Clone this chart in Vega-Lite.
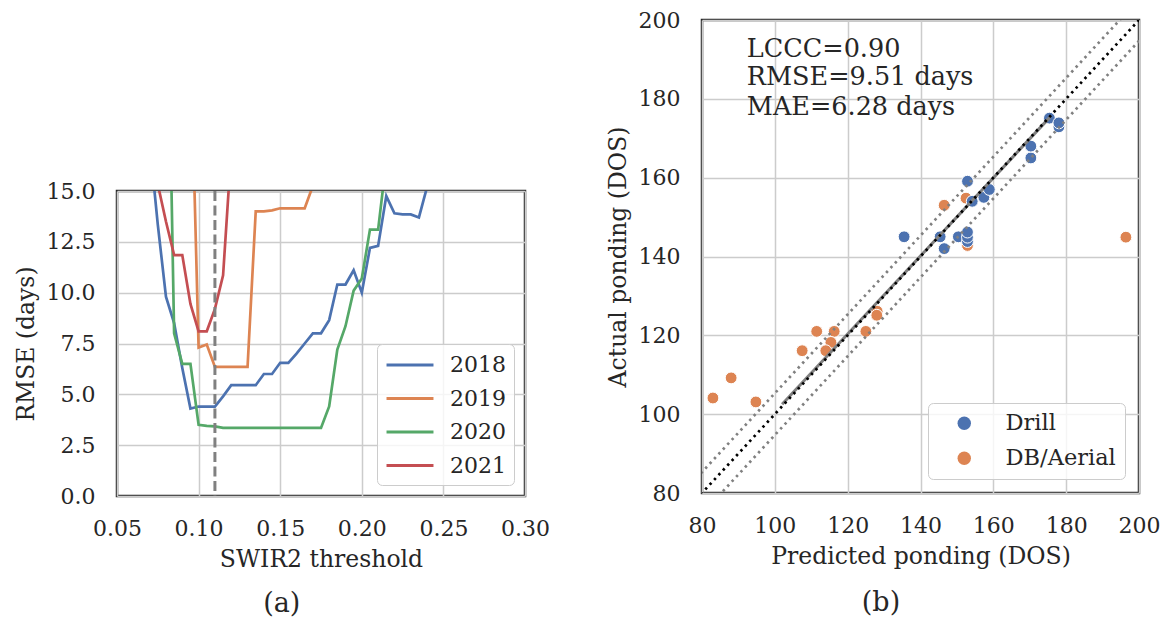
{
  "$schema": "https://vega.github.io/schema/vega-lite/v6.json",
  "padding": {"left": 12, "top": 7, "right": 2, "bottom": 0},
  "background": "white",
  "config": {
    "font": "DejaVu Serif",
    "view": {"stroke": "#262626", "strokeWidth": 2.5},
    "axis": {
      "labelFont": "DejaVu Serif", "titleFont": "DejaVu Serif",
      "labelFontSize": 22, "titleFontSize": 23.5,
      "labelColor": "#262626", "titleColor": "#262626",
      "titleFontWeight": "normal", "ticks": false, "labelPadding": 22,
      "titlePadding": 8, "domain": false, "labelFlush": false, "labelOverlap": false,
      "gridColor": "#cccccc", "gridWidth": 1.5
    },
    "legend": {"labelFont": "DejaVu Serif", "labelColor": "#262626"},
    "title": {"font": "DejaVu Serif", "fontSize": 27, "fontWeight": "normal", "color": "#262626"}
  },
  "resolve": {"scale": {"color": "independent"}, "legend": {"color": "independent"}},
  "spacing": 53,
  "hconcat": [
    {
      "spacing": 0,
      "resolve": {"scale": {"color": "independent"}, "legend": {"color": "independent"}},
      "vconcat": [
        {"width": 408, "height": 158, "view": {"stroke": null}, "data": {"values": []}, "mark": "point", "encoding": {}},
        {
          "width": 408, "height": 305,
          "title": {"text": "(a)", "orient": "bottom", "anchor": "middle", "frame": "bounds", "offset": 20, "dx": 0},
          "data": {"values": [
            {"t":0.07,"rmse":17.4,"year":"2018"},{"t":0.075,"rmse":13.35,"year":"2018"},{"t":0.08,"rmse":9.8,"year":"2018"},{"t":0.085,"rmse":8.5,"year":"2018"},{"t":0.09,"rmse":6.3,"year":"2018"},{"t":0.095,"rmse":4.3,"year":"2018"},{"t":0.1,"rmse":4.4,"year":"2018"},{"t":0.105,"rmse":4.4,"year":"2018"},{"t":0.11,"rmse":4.4,"year":"2018"},{"t":0.115,"rmse":4.9,"year":"2018"},{"t":0.12,"rmse":5.45,"year":"2018"},{"t":0.125,"rmse":5.45,"year":"2018"},{"t":0.13,"rmse":5.45,"year":"2018"},{"t":0.135,"rmse":5.45,"year":"2018"},{"t":0.14,"rmse":6.0,"year":"2018"},{"t":0.145,"rmse":6.0,"year":"2018"},{"t":0.15,"rmse":6.55,"year":"2018"},{"t":0.155,"rmse":6.55,"year":"2018"},{"t":0.16,"rmse":7.0,"year":"2018"},{"t":0.165,"rmse":7.5,"year":"2018"},{"t":0.17,"rmse":8.0,"year":"2018"},{"t":0.175,"rmse":8.0,"year":"2018"},{"t":0.18,"rmse":8.65,"year":"2018"},{"t":0.185,"rmse":10.4,"year":"2018"},{"t":0.19,"rmse":10.4,"year":"2018"},{"t":0.195,"rmse":11.1,"year":"2018"},{"t":0.2,"rmse":10.0,"year":"2018"},{"t":0.205,"rmse":12.2,"year":"2018"},{"t":0.21,"rmse":12.3,"year":"2018"},{"t":0.215,"rmse":14.75,"year":"2018"},{"t":0.22,"rmse":13.9,"year":"2018"},{"t":0.225,"rmse":13.85,"year":"2018"},{"t":0.23,"rmse":13.85,"year":"2018"},{"t":0.235,"rmse":13.7,"year":"2018"},{"t":0.24,"rmse":15.2,"year":"2018"},{"t":0.245,"rmse":17.0,"year":"2018"},
            {"t":0.095,"rmse":22.7,"year":"2019"},{"t":0.1,"rmse":7.3,"year":"2019"},{"t":0.105,"rmse":7.45,"year":"2019"},{"t":0.11,"rmse":6.35,"year":"2019"},{"t":0.115,"rmse":6.35,"year":"2019"},{"t":0.12,"rmse":6.35,"year":"2019"},{"t":0.125,"rmse":6.35,"year":"2019"},{"t":0.13,"rmse":6.35,"year":"2019"},{"t":0.135,"rmse":14.0,"year":"2019"},{"t":0.14,"rmse":14.0,"year":"2019"},{"t":0.145,"rmse":14.05,"year":"2019"},{"t":0.15,"rmse":14.15,"year":"2019"},{"t":0.155,"rmse":14.15,"year":"2019"},{"t":0.16,"rmse":14.15,"year":"2019"},{"t":0.165,"rmse":14.15,"year":"2019"},{"t":0.17,"rmse":15.25,"year":"2019"},{"t":0.175,"rmse":17.0,"year":"2019"},
            {"t":0.08,"rmse":30.0,"year":"2020"},{"t":0.085,"rmse":8.0,"year":"2020"},{"t":0.09,"rmse":6.5,"year":"2020"},{"t":0.095,"rmse":6.5,"year":"2020"},{"t":0.1,"rmse":3.5,"year":"2020"},{"t":0.105,"rmse":3.45,"year":"2020"},{"t":0.11,"rmse":3.42,"year":"2020"},{"t":0.115,"rmse":3.35,"year":"2020"},{"t":0.12,"rmse":3.35,"year":"2020"},{"t":0.125,"rmse":3.35,"year":"2020"},{"t":0.13,"rmse":3.35,"year":"2020"},{"t":0.135,"rmse":3.35,"year":"2020"},{"t":0.14,"rmse":3.35,"year":"2020"},{"t":0.145,"rmse":3.35,"year":"2020"},{"t":0.15,"rmse":3.35,"year":"2020"},{"t":0.155,"rmse":3.35,"year":"2020"},{"t":0.16,"rmse":3.35,"year":"2020"},{"t":0.165,"rmse":3.35,"year":"2020"},{"t":0.17,"rmse":3.35,"year":"2020"},{"t":0.175,"rmse":3.35,"year":"2020"},{"t":0.18,"rmse":4.4,"year":"2020"},{"t":0.185,"rmse":7.2,"year":"2020"},{"t":0.19,"rmse":8.35,"year":"2020"},{"t":0.195,"rmse":10.1,"year":"2020"},{"t":0.2,"rmse":10.7,"year":"2020"},{"t":0.205,"rmse":13.1,"year":"2020"},{"t":0.21,"rmse":13.1,"year":"2020"},{"t":0.215,"rmse":16.5,"year":"2020"},
            {"t":0.07,"rmse":17.0,"year":"2021"},{"t":0.075,"rmse":15.33,"year":"2021"},{"t":0.08,"rmse":13.5,"year":"2021"},{"t":0.085,"rmse":11.85,"year":"2021"},{"t":0.09,"rmse":11.85,"year":"2021"},{"t":0.095,"rmse":9.45,"year":"2021"},{"t":0.1,"rmse":8.1,"year":"2021"},{"t":0.105,"rmse":8.1,"year":"2021"},{"t":0.11,"rmse":9.2,"year":"2021"},{"t":0.115,"rmse":10.85,"year":"2021"},{"t":0.12,"rmse":17.0,"year":"2021"}
          ]},
          "layer": [
            {
              "mark": {"type": "line", "strokeWidth": 2.7, "clip": true},
              "encoding": {
                "x": {"field": "t", "type": "quantitative", "scale": {"domain": [0.05, 0.30], "nice": false, "zero": false},
                      "axis": {"values": [0.05, 0.1, 0.15, 0.2, 0.25, 0.3], "format": ".2f", "title": "SWIR2 threshold"}},
                "y": {"field": "rmse", "type": "quantitative", "scale": {"domain": [0, 15], "nice": false},
                      "axis": {"values": [0, 2.5, 5, 7.5, 10, 12.5, 15], "format": ".1f", "title": "RMSE (days)"}},
                "color": {"field": "year", "type": "nominal",
                          "scale": {"domain": ["2018", "2019", "2020", "2021"], "range": ["#4C72B0", "#DD8452", "#55A868", "#C44E52"]},
                          "legend": {"title": null, "orient": "bottom-right", "offset": 11, "symbolType": "M-2.1,0L2.1,0", "symbolSize": 500,
                                     "symbolOffset": 12,
                                     "symbolStrokeWidth": 3, "labelFontSize": 22, "padding": 8, "rowPadding": 9.5, "labelOffset": 27,
                                     "fillColor": "rgba(255,255,255,0.8)", "strokeColor": "#cccccc", "cornerRadius": 5}}
              }
            },
            {
              "data": {"values": [{"thr": 0.11}]},
              "mark": {"type": "rule", "strokeDash": [10, 4.5], "strokeWidth": 3, "color": "#808080"},
              "encoding": {"x": {"field": "thr", "type": "quantitative"}}
            }
          ]
        }
      ]
    },
    {
      "width": 437, "height": 473,
      "title": {"text": "(b)", "orient": "bottom", "anchor": "middle", "frame": "bounds", "offset": 22, "dx": -2},
      "layer": [
        {
          "data": {"values": [
            {"px":83.0,"py":104.1,"src":"DB/Aerial"},{"px":88.0,"py":109.2,"src":"DB/Aerial"},{"px":94.8,"py":103.1,"src":"DB/Aerial"},{"px":107.5,"py":116.1,"src":"DB/Aerial"},{"px":111.5,"py":121.0,"src":"DB/Aerial"},{"px":116.3,"py":121.0,"src":"DB/Aerial"},{"px":115.4,"py":118.2,"src":"DB/Aerial"},{"px":114.0,"py":116.1,"src":"DB/Aerial"},{"px":125.0,"py":121.0,"src":"DB/Aerial"},{"px":128.1,"py":126.1,"src":"DB/Aerial"},{"px":128.0,"py":125.1,"src":"DB/Aerial"},{"px":146.5,"py":153.0,"src":"DB/Aerial"},{"px":152.5,"py":154.8,"src":"DB/Aerial"},{"px":196.4,"py":144.9,"src":"DB/Aerial"},{"px":152.9,"py":142.8,"src":"DB/Aerial"},
            {"px":135.5,"py":145.0,"src":"Drill"},{"px":145.4,"py":145.0,"src":"Drill"},{"px":146.5,"py":142.0,"src":"Drill"},{"px":150.4,"py":145.0,"src":"Drill"},{"px":152.9,"py":143.8,"src":"Drill"},{"px":152.9,"py":144.9,"src":"Drill"},{"px":152.9,"py":146.2,"src":"Drill"},{"px":152.9,"py":159.1,"src":"Drill"},{"px":154.2,"py":154.0,"src":"Drill"},{"px":157.4,"py":155.0,"src":"Drill"},{"px":158.9,"py":157.0,"src":"Drill"},{"px":170.3,"py":165.0,"src":"Drill"},{"px":170.3,"py":168.0,"src":"Drill"},{"px":175.4,"py":175.1,"src":"Drill"},{"px":178.0,"py":172.9,"src":"Drill"},{"px":178.0,"py":173.9,"src":"Drill"}
          ]},
          "mark": {"type": "point", "filled": true, "opacity": 1, "size": 140, "stroke": "white", "strokeWidth": 1, "shape": "circle"},
          "encoding": {
            "x": {"field": "px", "type": "quantitative", "scale": {"domain": [80, 200], "nice": false, "zero": false},
                  "axis": {"values": [80, 100, 120, 140, 160, 180, 200], "title": "Predicted ponding (DOS)"}},
            "y": {"field": "py", "type": "quantitative", "scale": {"domain": [80, 200], "nice": false, "zero": false},
                  "axis": {"values": [80, 100, 120, 140, 160, 180, 200], "title": "Actual ponding (DOS)"}},
            "color": {"field": "src", "type": "nominal",
                      "scale": {"domain": ["Drill", "DB/Aerial"], "range": ["#4C72B0", "#DD8452"]},
                      "legend": {"title": null, "orient": "bottom-right", "offset": 14, "symbolType": "circle", "symbolSize": 180,
                                 "symbolStrokeWidth": 0, "labelFontSize": 22.5, "padding": 9, "rowPadding": 12, "labelOffset": 30,
                                 "symbolOffset": 16,
                                 "fillColor": "rgba(255,255,255,0.8)", "strokeColor": "#cccccc", "cornerRadius": 5}}
          }
        },
        {
          "data": {"values": [
            {"lx":70,"ly":75.3,"band":"upper"},{"lx":210,"ly":215.3,"band":"upper"},
            {"lx":70,"ly":64.7,"band":"lower"},{"lx":210,"ly":204.7,"band":"lower"}
          ]},
          "mark": {"type": "line", "color": "#808080", "strokeWidth": 2.7, "strokeDash": [2.5, 4], "clip": true},
          "encoding": {
            "x": {"field": "lx", "type": "quantitative"},
            "y": {"field": "ly", "type": "quantitative"},
            "detail": {"field": "band"}
          }
        },
        {
          "data": {"values": [{"fx":102.0,"fy":102.5},{"fx":175.5,"fy":175.3}]},
          "mark": {"type": "line", "color": "#808080", "strokeWidth": 3, "clip": true},
          "encoding": {
            "x": {"field": "fx", "type": "quantitative"},
            "y": {"field": "fy", "type": "quantitative"}
          }
        },
        {
          "data": {"values": [{"ox":70,"oy":70},{"ox":210,"oy":210}]},
          "mark": {"type": "line", "color": "black", "strokeWidth": 2.7, "strokeDash": [2.5, 4], "clip": true},
          "encoding": {
            "x": {"field": "ox", "type": "quantitative"},
            "y": {"field": "oy", "type": "quantitative"}
          }
        },
        {
          "data": {"values": [
            {"tx":92.3,"ty":190.6,"label":"LCCC=0.90"},
            {"tx":92.3,"ty":183.6,"label":"RMSE=9.51 days"},
            {"tx":92.3,"ty":176.0,"label":"MAE=6.28 days"}
          ]},
          "mark": {"type": "text", "align": "left", "baseline": "alphabetic", "fontSize": 25.5, "font": "DejaVu Serif", "color": "#262626"},
          "encoding": {
            "x": {"field": "tx", "type": "quantitative"},
            "y": {"field": "ty", "type": "quantitative"},
            "text": {"field": "label"}
          }
        }
      ]
    }
  ]
}
